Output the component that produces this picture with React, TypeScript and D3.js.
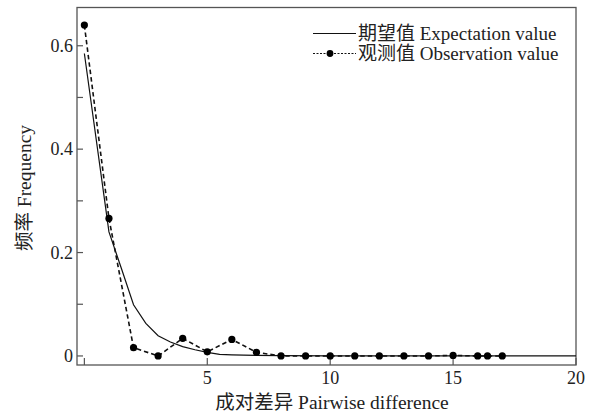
import { useRef, useEffect } from 'react';
import * as d3 from 'd3';

// Expected (mismatch model) curve
const expX = [0, 1, 1.5, 2, 2.5, 3, 3.5, 4, 4.5, 5, 5.5, 6, 7, 8, 10, 15, 20];
const expY = [0.585, 0.24, 0.17, 0.099, 0.063, 0.039, 0.027, 0.018, 0.012, 0.007, 0.003, 0.002, 0.001, 0.0005, 0, 0, 0];

// Observed frequencies
const obsX = [0, 1, 2, 3, 4, 5, 6, 7, 8, 9, 10, 11, 12, 13, 14, 15, 16, 16.4, 17];
const obsY = [0.64, 0.266, 0.016, 0, 0.034, 0.008, 0.032, 0.007, 0, 0, 0, 0, 0, 0, 0, 0.001, 0, 0, 0];

const xTicks = [0, 5, 10, 15, 20];
const xTickLabels = ['', '5', '10', '15', '20'];
const yTicks = [0, 0.1, 0.2, 0.3, 0.4, 0.5, 0.6];
const yTickLabels = ['0', '', '0.2', '', '0.4', '', '0.6'];

const legendLabels = ['期望值 Expectation value', '观测值 Observation value'];
const xTitle = '成对差异 Pairwise difference';
const yTitle = '频率 Frequency';

export default function App() {
  const ref = useRef<SVGSVGElement>(null);
  const width = 595;
  const height = 415;

  useEffect(() => {
    const svg = d3.select(ref.current);
    svg.selectAll('*').remove();

    const left = 77, right = 576, top = 7.5, bottom = 365;
    const font = '"Liberation Serif", "Noto Sans CJK SC", serif';
    const frameColor = '#555';

    const x = d3.scaleLinear().domain([-0.3, 20]).range([left, right]);
    const y = d3.scaleLinear().domain([-0.0175, 0.674]).range([bottom, top]);

    // Frame
    svg.append('rect')
      .attr('x', left).attr('y', top)
      .attr('width', right - left).attr('height', bottom - top)
      .attr('fill', 'none')
      .attr('stroke', frameColor)
      .attr('stroke-width', 1.3);

    // Y ticks (inward)
    const yAxis = svg.append('g');
    yAxis.selectAll('line').data(yTicks).enter().append('line')
      .attr('x1', left).attr('x2', left + 6)
      .attr('y1', d => y(d)).attr('y2', d => y(d))
      .attr('stroke', frameColor).attr('stroke-width', 1.2);
    yAxis.selectAll('text').data(yTicks).enter().append('text')
      .attr('x', left - 4)
      .attr('y', d => y(d))
      .attr('dy', '0.35em')
      .attr('text-anchor', 'end')
      .attr('font-family', font)
      .attr('font-size', 18)
      .attr('fill', '#222')
      .text((d, i) => yTickLabels[i]);

    // X ticks (inward)
    const xAxis = svg.append('g');
    xAxis.selectAll('line').data(xTicks).enter().append('line')
      .attr('x1', d => x(d)).attr('x2', d => x(d))
      .attr('y1', bottom).attr('y2', bottom - 7)
      .attr('stroke', frameColor).attr('stroke-width', 1.2);
    xAxis.selectAll('text').data(xTicks).enter().append('text')
      .attr('x', d => x(d))
      .attr('y', 384)
      .attr('text-anchor', 'middle')
      .attr('font-family', font)
      .attr('font-size', 18)
      .attr('fill', '#222')
      .text((d, i) => xTickLabels[i]);

    // Axis titles
    svg.append('text')
      .attr('x', 332).attr('y', 409)
      .attr('text-anchor', 'middle')
      .attr('font-family', font)
      .attr('font-size', 19.5)
      .attr('fill', '#222')
      .text(xTitle);
    svg.append('text')
      .attr('transform', 'translate(31, 188) rotate(-90)')
      .attr('text-anchor', 'middle')
      .attr('font-family', font)
      .attr('font-size', 19.5)
      .attr('fill', '#222')
      .text(yTitle);

    const exp = expX.map((d, i) => [d, expY[i]] as [number, number]);
    const obs = obsX.map((d, i) => [d, obsY[i]] as [number, number]);
    const line = d3.line<[number, number]>().x(d => x(d[0])).y(d => y(d[1]));

    // Expected curve
    svg.append('path')
      .attr('d', line(exp))
      .attr('fill', 'none')
      .attr('stroke', '#111')
      .attr('stroke-width', 1.2);

    // Observed curve
    svg.append('path')
      .attr('d', line(obs))
      .attr('fill', 'none')
      .attr('stroke', '#111')
      .attr('stroke-width', 1.6)
      .attr('stroke-dasharray', '4.5,3');
    svg.append('g').selectAll('circle').data(obs).enter().append('circle')
      .attr('cx', d => x(d[0]))
      .attr('cy', d => y(d[1]))
      .attr('r', 3.6)
      .attr('fill', '#000');

    // Legend
    const lg = svg.append('g');
    lg.append('line')
      .attr('x1', 313).attr('x2', 356).attr('y1', 33.5).attr('y2', 33.5)
      .attr('stroke', '#111').attr('stroke-width', 1);
    lg.append('line')
      .attr('x1', 313).attr('x2', 356).attr('y1', 53.5).attr('y2', 53.5)
      .attr('stroke', '#111').attr('stroke-width', 1)
      .attr('stroke-dasharray', '2,1.5');
    lg.append('circle')
      .attr('cx', 330).attr('cy', 53.5).attr('r', 3.4).attr('fill', '#000');
    lg.selectAll('text').data(legendLabels).enter().append('text')
      .attr('x', 358)
      .attr('y', (d, i) => 39.5 + i * 20)
      .attr('font-family', font)
      .attr('font-size', 19)
      .attr('fill', '#222')
      .text(d => d);
  }, []);

  return (
    <svg
      ref={ref}
      width={width}
      height={height}
      style={{ position: 'absolute', left: 0, top: 0, background: '#fff' }}
    />
  );
}
